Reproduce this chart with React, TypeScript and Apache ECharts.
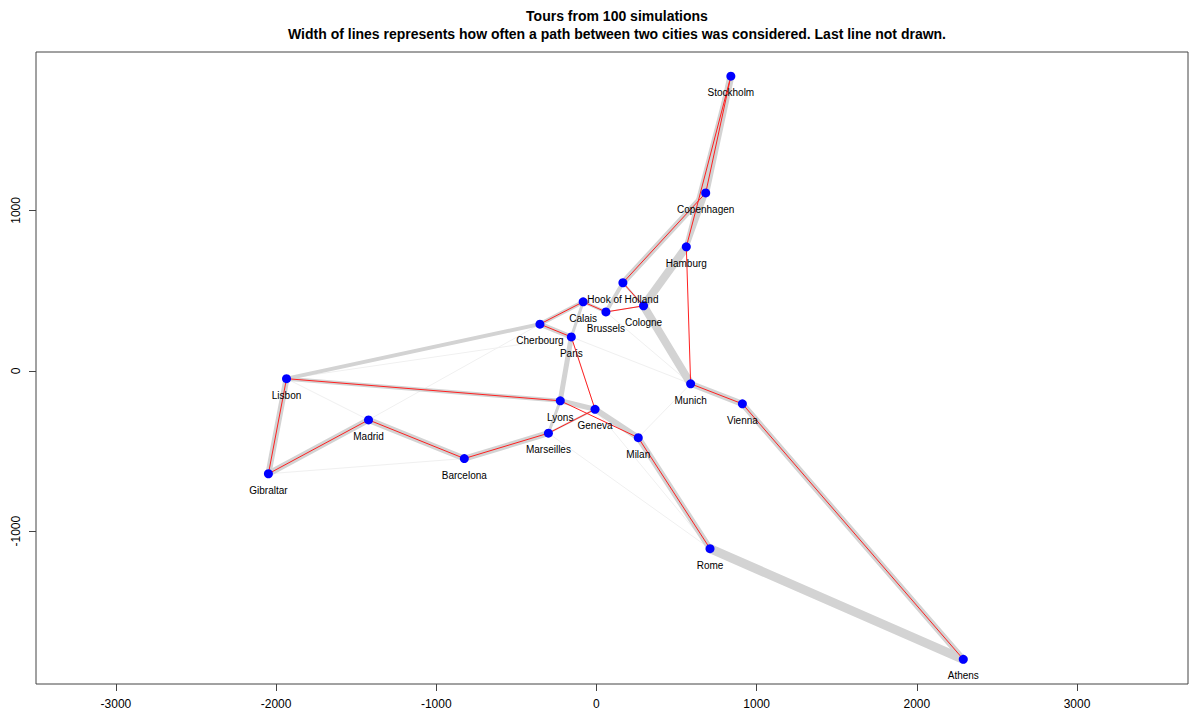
import React, { useEffect, useRef } from "react";
import * as echarts from "echarts";

const cities = [
  "Athens", "Barcelona", "Brussels", "Calais", "Cherbourg", "Cologne", "Copenhagen",
  "Geneva", "Gibraltar", "Hamburg", "Hook of Holland", "Lisbon", "Lyons", "Madrid",
  "Marseilles", "Milan", "Munich", "Paris", "Rome", "Stockholm", "Vienna",
];
const cityX = [
  2290, -825, 59, -83, -353, 294, 682, -9, -2048, 561, 165, -1935, -226, -1423,
  -300, 261, 588, -157, 709, 839, 911,
];
const cityY = [
  -1799, -547, 367, 430, 291, 405, 1109, -240, -642, 773, 549, -49, -187, -306,
  -389, -417, -81, 211, -1109, 1837, -206,
];

// tour order (last leg Rome -> Athens not drawn)
const tour = [
  "Athens", "Vienna", "Munich", "Hamburg", "Stockholm", "Copenhagen", "Hook of Holland",
  "Cologne", "Brussels", "Calais", "Cherbourg", "Paris", "Geneva", "Marseilles",
  "Barcelona", "Madrid", "Gibraltar", "Lisbon", "Lyons", "Milan", "Rome",
];

// frequently considered paths: from, to, width
const edgeFrom = [
  "Rome", "Vienna", "Munich", "Cologne", "Hamburg", "Copenhagen", "Stockholm", "Stockholm",
  "Copenhagen", "Hook of Holland", "Hook of Holland", "Brussels", "Calais", "Calais", "Calais",
  "Cherbourg", "Paris", "Cherbourg", "Lisbon", "Lisbon", "Gibraltar", "Madrid", "Barcelona",
  "Marseilles", "Marseilles", "Lyons", "Geneva", "Milan",
];
const edgeTo = [
  "Athens", "Athens", "Vienna", "Munich", "Cologne", "Hamburg", "Copenhagen", "Hamburg",
  "Hook of Holland", "Brussels", "Cologne", "Cologne", "Brussels", "Cherbourg", "Paris",
  "Paris", "Lyons", "Lisbon", "Lyons", "Gibraltar", "Madrid", "Barcelona", "Marseilles",
  "Lyons", "Geneva", "Geneva", "Milan", "Rome",
];
const edgeWidth = [
  9, 6, 6, 8, 8, 5, 7, 5, 6, 4, 2, 1, 3, 4, 3, 5, 5, 4, 4, 6, 6, 6, 6, 3, 2, 5, 6, 6,
];

// rarely considered paths (faint)
const faintFrom = [
  "Lisbon", "Lisbon", "Gibraltar", "Madrid", "Milan", "Marseilles", "Brussels", "Paris",
  "Lisbon", "Geneva", "Paris",
];
const faintTo = [
  "Paris", "Madrid", "Barcelona", "Cherbourg", "Munich", "Rome", "Munich", "Munich",
  "Cherbourg", "Rome", "Geneva",
];

const xTicks = [-3000, -2000, -1000, 0, 1000, 2000, 3000];
const yTicks = [-1000, 0, 1000];

const pos = (name: string) => {
  const i = cities.indexOf(name);
  return [cityX[i], cityY[i]];
};

export default function App() {
  const ref = useRef<HTMLDivElement>(null);
  useEffect(() => {
    document.body.style.margin = "0";
    const chart = echarts.init(ref.current!, null, { renderer: "svg" });
    const grayLines = edgeFrom.map((f, i) => ({
      coords: [pos(f), pos(edgeTo[i])],
      lineStyle: { width: edgeWidth[i] },
    }));
    const faintLines = faintFrom.map((f, i) => ({
      coords: [pos(f), pos(faintTo[i])],
    }));
    const redLines = tour.slice(0, -1).map((c, i) => ({
      coords: [pos(c), pos(tour[i + 1])],
    }));
    const font = "'Liberation Sans', Arial, Helvetica, sans-serif";
    chart.setOption({
      animation: false,
      backgroundColor: "#ffffff",
      title: {
        text: "Tours from 100 simulations\nWidth of lines represents how often a path between two cities was considered. Last line not drawn.",
        left: 612,
        top: 2,
        textAlign: "center",
        textStyle: {
          fontFamily: font,
          fontWeight: "bold",
          fontSize: 14,
          lineHeight: 18,
          color: "#000",
        },
      },
      grid: {
        left: 36,
        top: 52,
        width: 1152,
        height: 632,
        show: true,
        borderColor: "#444",
        borderWidth: 1,
        backgroundColor: "transparent",
      },
      xAxis: {
        type: "value",
        min: -3499,
        max: 3693,
        splitLine: { show: false },
        axisLine: { show: false, onZero: false },
        axisTick: {
          show: true,
          length: 7,
          customValues: xTicks,
          lineStyle: { color: "#444" },
        },
        axisLabel: {
          customValues: xTicks,
          margin: 14,
          formatter: (v: number) => String(v),
          fontFamily: font,
          fontSize: 12,
          color: "#000",
        },
      },
      yAxis: {
        type: "value",
        min: -1953,
        max: 1988,
        splitLine: { show: false },
        axisLine: { show: false, onZero: false },
        axisTick: {
          show: true,
          length: 7,
          customValues: yTicks,
          lineStyle: { color: "#444" },
        },
        axisLabel: {
          customValues: yTicks,
          rotate: 90,
          margin: 14,
          formatter: (v: number) => String(v),
          fontFamily: font,
          fontSize: 12,
          color: "#000",
        },
      },
      series: [
        {
          type: "lines",
          coordinateSystem: "cartesian2d",
          polyline: false,
          silent: true,
          lineStyle: { color: "#f0f0f0", width: 1, opacity: 1 },
          data: faintLines,
          z: 1,
        },
        {
          type: "lines",
          coordinateSystem: "cartesian2d",
          polyline: false,
          silent: true,
          lineStyle: { color: "#d3d3d3", opacity: 1, cap: "round", join: "round" },
          data: grayLines,
          z: 2,
        },
        {
          type: "lines",
          coordinateSystem: "cartesian2d",
          polyline: false,
          silent: true,
          lineStyle: { color: "#ff2020", width: 1, opacity: 1 },
          data: redLines,
          z: 3,
        },
        {
          type: "scatter",
          symbol: "circle",
          symbolSize: 9,
          itemStyle: { color: "#0000ff", opacity: 1 },
          data: cities.map((c, i) => ({ name: c, value: [cityX[i], cityY[i]] })),
          label: {
            show: true,
            position: "bottom",
            distance: 7,
            formatter: (p: any) => p.name,
            fontFamily: font,
            fontSize: 10,
            color: "#000",
          },
          z: 4,
        },
      ],
    });
    return () => chart.dispose();
  }, []);
  return <div ref={ref} style={{ width: 1191, height: 714 }} />;
}
